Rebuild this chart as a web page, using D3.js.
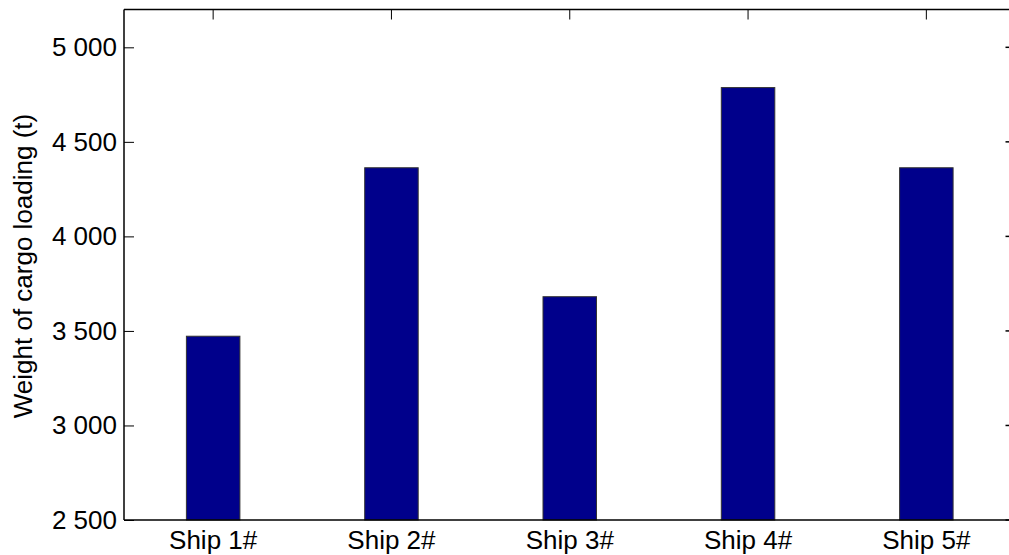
<!DOCTYPE html>
<html>
<head>
<meta charset="utf-8">
<script src="https://cdn.jsdelivr.net/npm/d3@7/dist/d3.min.js"></script>
<style>
html,body{margin:0;padding:0;background:#fff;overflow:hidden;}
svg{display:block;}
text{font-family:"Liberation Sans",Arial,sans-serif;fill:#000;}
</style>
</head>
<body>
<svg id="chart" width="1009" height="555"></svg>
<script>
const categories = ["Ship 1#", "Ship 2#", "Ship 3#", "Ship 4#", "Ship 5#"];
const values = [3472, 4363, 3681, 4787, 4363];
const yTicks = [2500, 3000, 3500, 4000, 4500, 5000];
const yLabel = "Weight of cargo loading (t)";

const svg = d3.select("#chart");
const pLeft = 124, pRight = 1015.5, pTop = 9.5, pBottom = 520;
const tickLen = 10;

const x = d3.scaleLinear().domain([0.5, categories.length + 0.5]).range([pLeft, pRight]);
const y = d3.scaleLinear().domain([2500, 5200]).range([pBottom, pTop]);
const step = x(2) - x(1);
const barW = step * 0.3;

const loc = d3.formatLocale({decimal: ".", thousands: " ", grouping: [3], currency: ["", ""]});
const fmt = loc.format(",d");

// bottom inner ticks (behind bars)
svg.append("g").selectAll("line").data(categories).join("line")
  .attr("x1", (d,i) => x(i+1)).attr("x2", (d,i) => x(i+1))
  .attr("y1", pBottom).attr("y2", pBottom - tickLen)
  .attr("stroke", "#000").attr("stroke-width", 1);

// bars
svg.append("g").selectAll("rect").data(values).join("rect")
  .attr("x", (d,i) => x(i+1) - barW/2)
  .attr("width", barW)
  .attr("y", d => y(d))
  .attr("height", d => pBottom - y(d))
  .attr("fill", "#00008b")
  .attr("stroke", "#333")
  .attr("stroke-width", 1);

// frame (right edge lies beyond the visible area)
const frame = svg.append("g").attr("stroke", "#000").attr("stroke-width", 1.5).attr("fill", "none");
frame.append("line").attr("x1", pLeft).attr("x2", pLeft).attr("y1", pTop).attr("y2", pBottom);
frame.append("line").attr("x1", pLeft).attr("x2", pRight).attr("y1", pBottom).attr("y2", pBottom);
frame.append("line").attr("x1", pLeft).attr("x2", pRight).attr("y1", pTop).attr("y2", pTop);

// top ticks
svg.append("g").selectAll("line").data(categories).join("line")
  .attr("x1", (d,i) => x(i+1)).attr("x2", (d,i) => x(i+1))
  .attr("y1", pTop).attr("y2", pTop + tickLen)
  .attr("stroke", "#000").attr("stroke-width", 1);

// y axis (left) with inward ticks
const yAxis = d3.axisLeft(y).tickValues(yTicks).tickFormat(fmt).tickSizeInner(-tickLen).tickSizeOuter(0).tickPadding(7);
const ga = svg.append("g").attr("transform", `translate(${pLeft},0)`).call(yAxis);
ga.select(".domain").remove();
ga.selectAll(".tick line").attr("stroke", "#000");
ga.selectAll(".tick text").attr("font-size", 26).attr("font-family", "'Liberation Sans', Arial, sans-serif").attr("fill", "#000");

// right ticks
svg.append("g").selectAll("line").data(yTicks).join("line")
  .attr("x1", pRight).attr("x2", pRight - tickLen)
  .attr("y1", d => y(d)).attr("y2", d => y(d))
  .attr("stroke", "#000").attr("stroke-width", 1.5);

// x labels
svg.append("g").selectAll("text").data(categories).join("text")
  .attr("x", (d,i) => x(i+1)).attr("y", 549)
  .attr("text-anchor", "middle").attr("font-size", 26)
  .text(d => d);

// y label
svg.append("text")
  .attr("transform", `translate(32,266) rotate(-90)`)
  .attr("text-anchor", "middle").attr("font-size", 26)
  .text(yLabel);
</script>
</body>
</html>
